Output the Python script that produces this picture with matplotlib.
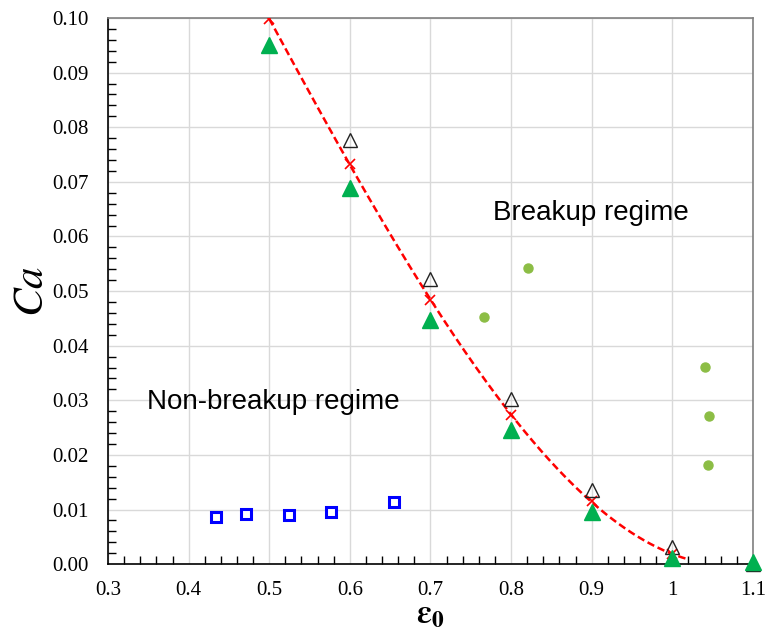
import matplotlib
matplotlib.use("Agg")
import matplotlib.pyplot as plt
import numpy as np

# 数据
fit_x = [0.5, 0.6, 0.7, 0.8, 0.9, 1.0]
fit_ca = [0.0998, 0.0733, 0.0483, 0.0273, 0.0115, 0.0018]

open_x = [0.6, 0.7, 0.8, 0.9, 1.0, 1.1]
open_ca = [0.0777, 0.0522, 0.0302, 0.0135, 0.0031, 0.0]

green_x = [0.5, 0.6, 0.7, 0.8, 0.9, 1.0, 1.1]
green_ca = [0.0950, 0.0689, 0.0447, 0.0245, 0.0095, 0.0012, 0.0003]

break_x = [0.766, 0.821, 1.040, 1.046, 1.044]
break_ca = [0.0452, 0.0542, 0.0361, 0.0271, 0.0181]

nonbreak_x = [0.434, 0.471, 0.525, 0.577, 0.655]
nonbreak_ca = [0.0086, 0.0092, 0.0090, 0.0095, 0.0113]

plt.rcParams['font.family'] = ['Liberation Serif', 'DejaVu Serif']
plt.rcParams['mathtext.fontset'] = 'stix'

fig = plt.figure(figsize=(7.66, 6.31), dpi=100)
ax = fig.add_axes([0.141, 0.106, 0.842, 0.8655])

# 拟合曲线
P = np.polyfit(fit_x, fit_ca, 3)
xx = np.linspace(0.5, 1.02, 200)
yy = np.clip(np.polyval(P, xx), 0, None)
ax.plot(xx, yy, '--', color='#ff0000', lw=1.8, dashes=(3, 1.5), zorder=3)
ax.plot(fit_x, fit_ca, 'x', color='#ff0000', ms=7, mew=1.2, zorder=4)

ax.plot(open_x, open_ca, '^', mfc='none', mec='#222222', ms=10, mew=1.0, zorder=4, clip_on=False)
ax.plot(green_x, green_ca, '^', color='#00b050', ms=11, zorder=5, clip_on=False)
ax.plot(break_x, break_ca, 'o', color='#8cbd45', ms=6.5, zorder=4)
ax.plot(nonbreak_x, nonbreak_ca, 's', mfc='white', mec='#0000ff', ms=7, mew=2.2, zorder=4)

ax.text(0.778, 0.0643, 'Breakup regime', fontsize=20, family='Liberation Sans', va='center')
ax.text(0.348, 0.0297, 'Non-breakup regime', fontsize=20, family='Liberation Sans', va='center')

ax.set_xlim(0.3, 1.1)
ax.set_ylim(0, 0.1)
ax.set_xticks(np.arange(0.3, 1.11, 0.1))
ax.set_xticklabels(['0.3', '0.4', '0.5', '0.6', '0.7', '0.8', '0.9', '1', '1.1'])
ax.set_yticks(np.arange(0, 0.101, 0.01))
ax.set_yticklabels(['%.2f' % v for v in np.arange(0, 0.101, 0.01)])
ax.set_xticks(np.arange(0.3, 1.1, 0.02), minor=True)
ax.set_yticks(np.arange(0, 0.1, 0.002), minor=True)
ax.tick_params(which='both', direction='in', labelsize=15, colors='black')
ax.tick_params(which='major', length=0, pad=12)
ax.tick_params(which='minor', length=6, width=1)
ax.tick_params(axis='y', which='major', pad=14)
ax.grid(True, which='major', color='#d9d9d9', lw=1)
ax.set_axisbelow(True)

for s in ['left', 'bottom']:
    ax.spines[s].set_color('black')
    ax.spines[s].set_linewidth(1.2)
for s in ['top', 'right']:
    ax.spines[s].set_color('#808080')
    ax.spines[s].set_linewidth(1.2)

ax.set_ylabel(r'$\mathit{Ca}$', fontsize=31, labelpad=0)
ax.set_xlabel(r'$\boldsymbol{\varepsilon}_{\mathbf{0}}$', fontsize=24, labelpad=0)

plt.savefig('out.png', dpi=100)
